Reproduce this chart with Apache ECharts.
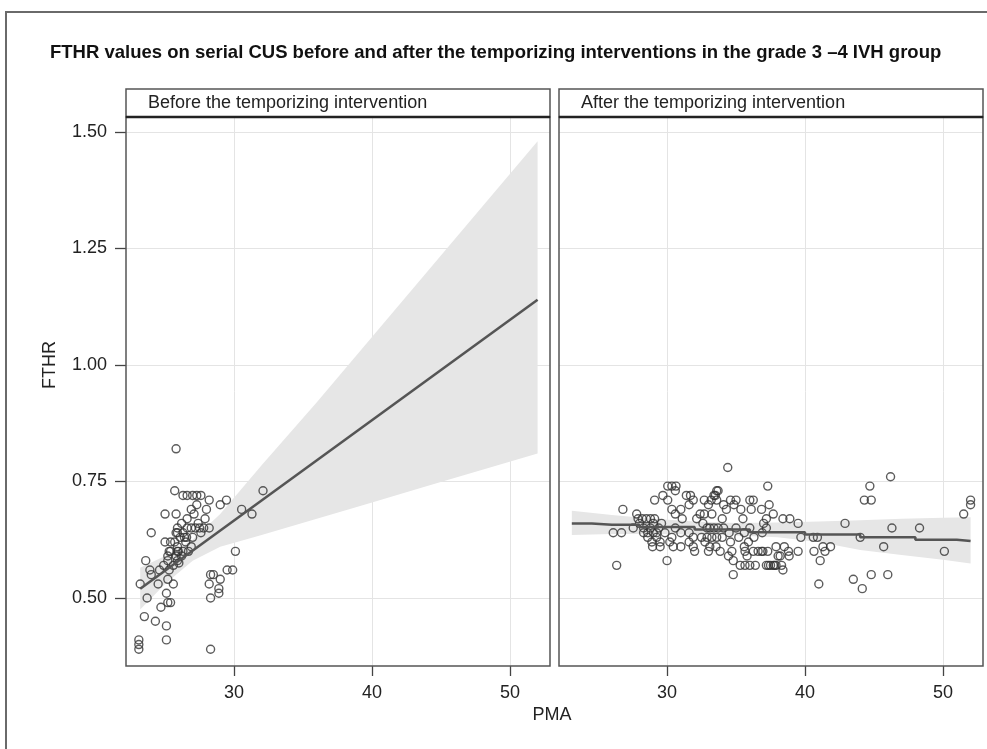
<!DOCTYPE html>
<html>
<head>
<meta charset="utf-8">
<script src="https://cdn.jsdelivr.net/npm/echarts@6/dist/echarts.min.js"></script>
<style>
  html, body { margin: 0; padding: 0; background: #fff; }
  #chart { width: 987px; height: 749px; }
</style>
</head>
<body>
<div id="chart"></div>
<script>
// tick labels
const xTicks = [30, 40, 50];
const yTicks = [0.5, 0.75, 1.0, 1.25, 1.5];

// before the temporizing intervention
const beforePMA = [25.8, 25.7, 26.3, 26.6, 27.0, 27.3, 27.6, 28.2, 27.3, 26.9, 25.0, 25.8, 27.9, 24.0, 25.9,
  26.6, 26.9, 27.2, 27.5, 27.8, 28.2, 25.8, 26.4, 25.0, 25.4, 25.7, 26.9, 25.4, 25.9, 26.3, 25.2, 25.8, 26.2,
  23.6, 24.6, 24.0, 23.2, 25.2, 25.6, 23.7, 25.1, 25.2, 25.4, 24.7, 23.5, 24.3, 25.1, 25.1, 23.1, 23.1, 23.1,
  28.3, 28.2, 28.3, 28.3, 30.55, 31.3, 30.1, 29.5, 29.9, 28.5, 29.0, 28.9, 28.9, 32.1, 29.45, 29.0,
  26.3, 26.5, 26.7, 27.0, 25.6, 26.0, 24.9, 25.3, 23.9, 24.5, 26.2, 26.6, 27.1, 25.9, 26.1, 27.4, 27.6, 28.0,
  25.9, 25.3, 25.96, 25.2, 25.9, 26.56];
const beforeFTHR = [0.82, 0.73, 0.72, 0.72, 0.72, 0.72, 0.72, 0.71, 0.70, 0.69, 0.68, 0.68, 0.67, 0.64, 0.65,
  0.65, 0.65, 0.65, 0.65, 0.65, 0.65, 0.64, 0.63, 0.62, 0.62, 0.62, 0.61, 0.60, 0.60, 0.60, 0.59, 0.59, 0.59,
  0.58, 0.56, 0.55, 0.53, 0.54, 0.53, 0.50, 0.51, 0.49, 0.49, 0.48, 0.46, 0.45, 0.44, 0.41, 0.41, 0.40, 0.39,
  0.55, 0.53, 0.50, 0.39, 0.69, 0.68, 0.60, 0.56, 0.56, 0.55, 0.54, 0.52, 0.51, 0.73, 0.71, 0.70,
  0.64, 0.62, 0.60, 0.63, 0.57, 0.575, 0.57, 0.56, 0.56, 0.53, 0.66, 0.67, 0.68, 0.61, 0.63, 0.66, 0.64, 0.69,
  0.64, 0.60, 0.60, 0.58, 0.58, 0.63];
const beforeFitX = [23.2, 52.0];
const beforeFitY = [0.52, 1.14];
const beforeBandX = [23.2, 25, 27, 29, 32, 36, 40, 44, 48, 52];
const beforeBandLo = [0.475, 0.53, 0.58, 0.61, 0.635, 0.67, 0.705, 0.74, 0.775, 0.81];
const beforeBandHi = [0.565, 0.59, 0.625, 0.68, 0.785, 0.92, 1.06, 1.20, 1.34, 1.48];

// after the temporizing intervention
const afterPMA = [34.4, 46.2,
  30.05, 30.35, 30.65, 37.3, 44.7,
  30.6, 33.7, 33.6,
  29.7, 31.4, 31.7, 33.4, 33.5,
  29.1, 30.05, 31.9, 32.7, 33.6, 34.6, 35.0, 36.0, 36.25, 44.3, 44.8, 52.0, 33.2,
  31.6, 33.0, 34.1, 37.4, 52.0, 34.85,
  26.8, 30.35, 34.3, 35.35, 36.1, 36.85, 31.0,
  27.8, 32.4, 32.7, 33.25, 37.7, 51.5, 30.6,
  27.9, 28.2, 28.5, 28.8, 29.1, 31.1, 32.15, 34.0, 35.5, 37.2, 38.4, 38.9,
  29.6, 32.6, 37.0, 39.5, 42.9, 28.0, 29.0,
  27.55, 28.3, 28.8, 29.4, 30.6, 32.9, 33.1, 33.4, 33.7, 34.1, 37.2, 46.3, 48.3, 35.0, 36.0,
  26.1, 26.7, 28.3, 28.6, 29.25, 29.85, 31.0, 31.6, 36.9, 34.5, 35.6, 29.0,
  28.6, 29.25, 30.35, 31.9, 32.5, 32.9, 33.25, 33.6, 34.0, 39.7, 40.6, 40.9, 44.0, 35.2, 36.3,
  28.9, 29.5, 31.6, 32.75, 30.2, 34.6, 35.9,
  28.95, 29.5, 30.45, 31.0, 31.9, 33.1, 33.55, 35.6, 38.5, 41.3, 41.85, 45.7, 37.9,
  32.0, 33.0, 33.85, 34.7, 35.65, 36.25, 36.6, 36.95, 37.3, 36.85, 38.8, 39.5, 40.65, 41.45, 50.1,
  34.45, 35.8, 38.05, 38.2, 38.85,
  30.0, 34.8, 41.1,
  26.35, 35.3, 35.65, 36.0, 36.4, 37.2, 37.5, 37.8, 37.35, 37.7, 37.9, 38.3,
  38.4, 34.8, 44.8, 46.0, 43.5, 41.0, 44.15];
const afterFTHR = [0.78, 0.76,
  0.74, 0.74, 0.74, 0.74, 0.74,
  0.73, 0.73, 0.73,
  0.72, 0.72, 0.72, 0.72, 0.72,
  0.71, 0.71, 0.71, 0.71, 0.71, 0.71, 0.71, 0.71, 0.71, 0.71, 0.71, 0.71, 0.71,
  0.70, 0.70, 0.70, 0.70, 0.70, 0.70,
  0.69, 0.69, 0.69, 0.69, 0.69, 0.69, 0.69,
  0.68, 0.68, 0.68, 0.68, 0.68, 0.68, 0.68,
  0.67, 0.67, 0.67, 0.67, 0.67, 0.67, 0.67, 0.67, 0.67, 0.67, 0.67, 0.67,
  0.66, 0.66, 0.66, 0.66, 0.66, 0.66, 0.66,
  0.65, 0.65, 0.65, 0.65, 0.65, 0.65, 0.65, 0.65, 0.65, 0.65, 0.65, 0.65, 0.65, 0.65, 0.65,
  0.64, 0.64, 0.64, 0.64, 0.64, 0.64, 0.64, 0.64, 0.64, 0.64, 0.64, 0.64,
  0.63, 0.63, 0.63, 0.63, 0.63, 0.63, 0.63, 0.63, 0.63, 0.63, 0.63, 0.63, 0.63, 0.63, 0.63,
  0.62, 0.62, 0.62, 0.62, 0.62, 0.62, 0.62,
  0.61, 0.61, 0.61, 0.61, 0.61, 0.61, 0.61, 0.61, 0.61, 0.61, 0.61, 0.61, 0.61,
  0.60, 0.60, 0.60, 0.60, 0.60, 0.60, 0.60, 0.60, 0.60, 0.60, 0.60, 0.60, 0.60, 0.60, 0.60,
  0.59, 0.59, 0.59, 0.59, 0.59,
  0.58, 0.58, 0.58,
  0.57, 0.57, 0.57, 0.57, 0.57, 0.57, 0.57, 0.57, 0.57, 0.57, 0.57, 0.57,
  0.56, 0.55, 0.55, 0.55, 0.54, 0.53, 0.52];
const afterFitX = [23.1, 26, 30, 34, 38, 42, 46, 50, 52];
const afterFitY = [0.660, 0.657, 0.652, 0.647, 0.641, 0.636, 0.630, 0.625, 0.622];
const afterBandX = [23.1, 26, 29, 32, 35, 38, 41, 44, 47, 50, 52];
const afterBandLo = [0.635, 0.637, 0.637, 0.636, 0.634, 0.630, 0.620, 0.603, 0.592, 0.582, 0.574];
const afterBandHi = [0.687, 0.678, 0.670, 0.664, 0.661, 0.662, 0.664, 0.667, 0.670, 0.672, 0.673];

const xMin = 22.17, xMax = 52.9;
const yMin = 0.354, yMax = 1.532;

const font = 'Liberation Sans, Arial, sans-serif';
const pLeft = [126, 559], pTop = 117, pW = 424, pH = 549;

function zip(a, b) { return a.map((v, i) => [v, b[i]]); }

// confidence band: one polygon, upper edge forward then lower edge back
function bandSeries(idx, xs, lo, hi) {
  return {
    type: 'custom', xAxisIndex: idx, yAxisIndex: idx, silent: true, z: 1,
    data: xs.map((x, i) => [x, lo[i], hi[i]]),
    renderItem: function (params, api) {
      if (params.dataIndex !== 0) return null;
      const pts = [];
      xs.forEach((x, i) => pts.push(api.coord([x, hi[i]])));
      for (let i = xs.length - 1; i >= 0; i--) pts.push(api.coord([xs[i], lo[i]]));
      return { type: 'polygon', shape: { points: pts }, style: { fill: '#e6e6e6' } };
    }
  };
}

function xAxisFor(idx) {
  return {
    type: 'value', gridIndex: idx, min: xMin, max: xMax,
    axisLine: { show: false },
    axisTick: { show: true, length: 10, lineStyle: { color: '#444', width: 1.3 }, customValues: xTicks },
    axisLabel: { customValues: xTicks, color: '#222', fontSize: 18, fontFamily: font, margin: 18 },
    splitLine: { show: true, lineStyle: { color: '#e4e4e4', width: 1 } }
  };
}
function yAxisFor(idx) {
  return {
    type: 'value', gridIndex: idx, min: yMin, max: yMax,
    axisLine: { show: false },
    axisTick: { show: idx === 0, length: 11, lineStyle: { color: '#444', width: 1.3 }, customValues: yTicks },
    axisLabel: {
      show: idx === 0, customValues: yTicks, color: '#222', fontSize: 18, fontFamily: font, margin: 19,
      formatter: v => v.toFixed(2)
    },
    splitLine: { show: true, lineStyle: { color: '#e4e4e4', width: 1 } }
  };
}

const pointStyle = { color: 'rgba(0,0,0,0)', borderColor: '#333', borderWidth: 1.4 };

const graphics = [
  { type: 'rect', shape: { x: 6, y: 12, width: 1010, height: 800 }, style: { fill: 'none', stroke: '#6a6a6a', lineWidth: 2 }, z: 0 },
  { type: 'text', x: 50, y: 53, style: { text: 'FTHR values on serial CUS before and after the temporizing interventions in the grade 3 \u20134 IVH group', font: 'bold 18.5px ' + font, fill: '#111', textVerticalAlign: 'middle' } },
  { type: 'text', x: 50, y: 365, rotation: Math.PI / 2, style: { text: 'FTHR', font: '18px ' + font, fill: '#222', textAlign: 'center', textVerticalAlign: 'middle' } },
  { type: 'text', x: 552, y: 715, style: { text: 'PMA', font: '18px ' + font, fill: '#222', textAlign: 'center', textVerticalAlign: 'middle' } }
];
const stripText = ['Before the temporizing intervention', 'After the temporizing intervention'];
[0, 1].forEach(i => {
  graphics.push(
    { type: 'rect', shape: { x: pLeft[i], y: 89, width: pW, height: 28 }, style: { fill: '#fff', stroke: '#555', lineWidth: 1.5 }, z: 10 },
    { type: 'text', x: pLeft[i] + 22, y: 103, style: { text: stripText[i], font: '18px ' + font, fill: '#222', textVerticalAlign: 'middle' }, z: 11 },
    { type: 'rect', shape: { x: pLeft[i], y: pTop, width: pW, height: pH }, style: { fill: 'none', stroke: '#555', lineWidth: 1.5 }, z: 10 },
    { type: 'line', shape: { x1: pLeft[i], y1: pTop, x2: pLeft[i] + pW, y2: pTop }, style: { stroke: '#222', lineWidth: 2.5 }, z: 12 }
  );
});

const chart = echarts.init(document.getElementById('chart'));
chart.setOption({
  animation: false,
  backgroundColor: '#fff',
  grid: [
    { left: pLeft[0], top: pTop, width: pW, height: pH },
    { left: pLeft[1], top: pTop, width: pW, height: pH }
  ],
  xAxis: [xAxisFor(0), xAxisFor(1)],
  yAxis: [yAxisFor(0), yAxisFor(1)],
  graphic: graphics,
  series: [
    bandSeries(0, beforeBandX, beforeBandLo, beforeBandHi),
    bandSeries(1, afterBandX, afterBandLo, afterBandHi),
    {
      type: 'scatter', xAxisIndex: 0, yAxisIndex: 0, data: zip(beforePMA, beforeFTHR),
      symbol: 'circle', symbolSize: 8, itemStyle: pointStyle, z: 3
    },
    {
      type: 'scatter', xAxisIndex: 1, yAxisIndex: 1, data: zip(afterPMA, afterFTHR),
      symbol: 'circle', symbolSize: 8, itemStyle: pointStyle, z: 3
    },
    {
      type: 'line', xAxisIndex: 0, yAxisIndex: 0, data: zip(beforeFitX, beforeFitY),
      symbol: 'none', lineStyle: { color: '#555', width: 2.5 }, z: 4
    },
    {
      type: 'line', xAxisIndex: 1, yAxisIndex: 1, data: zip(afterFitX, afterFitY), step: 'middle',
      symbol: 'none', lineStyle: { color: '#555', width: 2.5 }, z: 4
    }
  ]
});
</script>
</body>
</html>
